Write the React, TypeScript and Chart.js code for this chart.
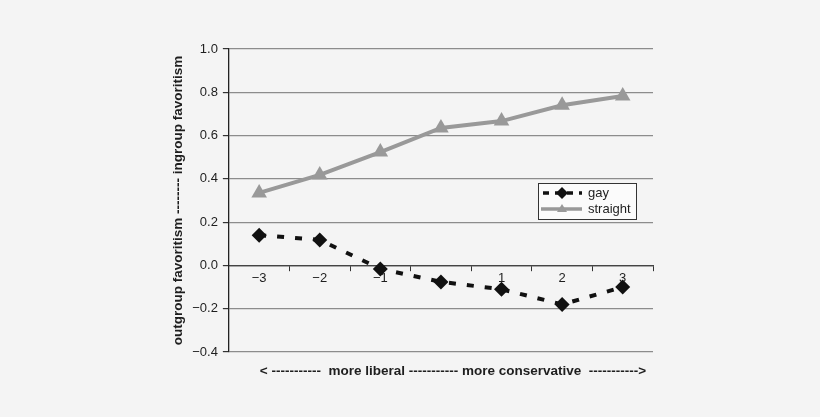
import React, { useEffect, useRef } from 'react';
import { Chart, registerables } from 'chart.js';

Chart.register(...registerables);

const positions = ['\u22123', '\u22122', '\u22121', '', '1', '2', '3'];
const gay = [0.14, 0.118, -0.016, -0.076, -0.11, -0.18, -0.10];
const straight = [0.335, 0.418, 0.524, 0.635, 0.667, 0.74, 0.783];
const legendLabels = ['gay', 'straight'];
const yTitle = 'outgroup favoritism -------- ingroup favoritism';
const xTitle = '< -----------  more liberal ----------- more conservative  ----------->';

const FONT = '"Liberation Sans", Arial, sans-serif';
const INK = '#1e1e1e';
const GAY_C = '#111111';
const STR_C = '#999999';

// legend box + bottom caption, drawn inside the canvas
const extras = {
  id: 'extras',
  afterDraw(chart: Chart) {
    const { ctx, chartArea: a } = chart;
    ctx.save();
    // caption under the plot
    ctx.font = `bold 13.5px ${FONT}`;
    ctx.fillStyle = INK;
    ctx.textAlign = 'center';
    ctx.textBaseline = 'middle';
    ctx.fillText(xTitle, (a.left + a.right) / 2 + 12, a.bottom + 19);

    // legend
    const bx = a.right - 115, by = a.top + 134, bw = 98, bh = 36;
    ctx.fillStyle = '#fbfbfb';
    ctx.fillRect(bx, by, bw, bh);
    ctx.strokeStyle = '#333';
    ctx.lineWidth = 1;
    ctx.strokeRect(bx + 0.5, by + 0.5, bw, bh);
    const rows = [by + 10, by + 26];
    // gay row
    ctx.strokeStyle = GAY_C;
    ctx.lineWidth = 3.5;
    ctx.setLineDash([6, 6]);
    ctx.beginPath();
    ctx.moveTo(bx + 5, rows[0]);
    ctx.lineTo(bx + 44, rows[0]);
    ctx.stroke();
    ctx.setLineDash([]);
    ctx.fillStyle = GAY_C;
    ctx.beginPath();
    const dx = bx + 24, r = 6;
    ctx.moveTo(dx, rows[0] - r);
    ctx.lineTo(dx + r, rows[0]);
    ctx.lineTo(dx, rows[0] + r);
    ctx.lineTo(dx - r, rows[0]);
    ctx.closePath();
    ctx.fill();
    // straight row
    ctx.strokeStyle = STR_C;
    ctx.lineWidth = 3.5;
    ctx.beginPath();
    ctx.moveTo(bx + 3, rows[1]);
    ctx.lineTo(bx + 44, rows[1]);
    ctx.stroke();
    ctx.fillStyle = STR_C;
    ctx.beginPath();
    ctx.moveTo(dx, rows[1] - 5);
    ctx.lineTo(dx + 5, rows[1] + 3);
    ctx.lineTo(dx - 5, rows[1] + 3);
    ctx.closePath();
    ctx.fill();
    // labels
    ctx.font = `13px ${FONT}`;
    ctx.fillStyle = INK;
    ctx.textAlign = 'left';
    legendLabels.forEach((t, i) => ctx.fillText(t, bx + 50, rows[i]));
    ctx.restore();
  },
};

export default function App() {
  const ref = useRef<HTMLCanvasElement>(null);
  const chartRef = useRef<Chart | null>(null);

  useEffect(() => {
    if (!ref.current) return;
    chartRef.current?.destroy();
    chartRef.current = new Chart(ref.current, {
      type: 'line',
      data: {
        labels: positions,
        datasets: [
          {
            label: legendLabels[0],
            data: gay,
            borderColor: GAY_C,
            backgroundColor: GAY_C,
            borderWidth: 4,
            borderDash: [7, 11],
            pointStyle: 'rectRot',
            pointRadius: 7.5,
            pointBorderWidth: 0,
            tension: 0,
          },
          {
            label: legendLabels[1],
            data: straight,
            borderColor: STR_C,
            backgroundColor: STR_C,
            borderWidth: 4,
            pointStyle: 'triangle',
            pointRadius: 9,
            pointBorderWidth: 0,
            tension: 0,
          },
        ],
      },
      options: {
        animation: false,
        responsive: true,
        maintainAspectRatio: false,
        layout: { padding: { left: 170, right: 167, top: 49, bottom: 65 } },
        plugins: { legend: { display: false }, tooltip: { enabled: false } },
        scales: {
          x: {
            type: 'category',
            position: { y: 0 },
            offset: true,
            grid: { offset: true, drawOnChartArea: false, drawTicks: true, tickLength: 5, color: '#333', lineWidth: 1 },
            border: { color: '#444', width: 1.2 },
            ticks: { color: INK, font: { family: FONT, size: 13 }, maxRotation: 0, autoSkip: false, padding: 0 },
          },
          y: {
            min: -0.4,
            max: 1.0,
            ticks: {
              stepSize: 0.2,
              color: INK,
              font: { family: FONT, size: 13 },
              padding: 5,
              callback: (v) => {
                const n = Number(v);
                const s = Math.abs(n).toFixed(1);
                return n < -1e-9 ? '\u2212' + s : s;
              },
            },
            grid: {
              color: (c) => (Math.abs((c.tick?.value ?? 1)) < 1e-9 ? '#444' : '#8c8c8c'),
              lineWidth: 1.2,
              tickLength: 6,
              tickColor: '#333',
            },
            border: { color: '#222', width: 1.3 },
            title: {
              display: true,
              text: yTitle,
              color: INK,
              font: { family: FONT, size: 13.5, weight: 'bold' },
              padding: { top: 0, bottom: 1 },
            },
          },
        },
      },
      plugins: [extras],
    });
    return () => chartRef.current?.destroy();
  }, []);

  return (
    <div style={{ position: 'fixed', left: 0, top: 0, width: 820, height: 417, background: '#f4f4f4' }}>
      <canvas ref={ref} />
    </div>
  );
}
